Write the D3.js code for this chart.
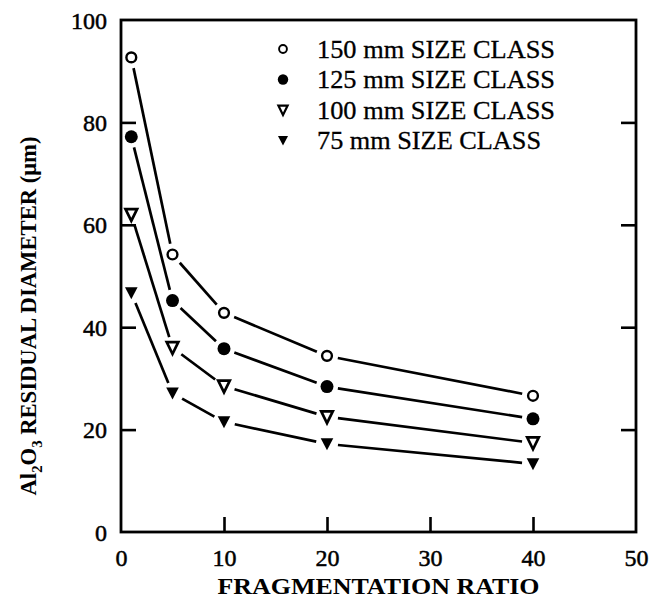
<!DOCTYPE html>
<html>
<head>
<meta charset="utf-8">
<script src="https://cdn.jsdelivr.net/npm/d3@7"></script>
<style>
  html, body { margin: 0; padding: 0; background: #fff; }
  svg { display: block; }
  text { font-family: "Liberation Serif", "Times New Roman", serif; fill: #000; }
</style>
</head>
<body>
<svg id="chart" width="665" height="610"></svg>
<script>
// Fragmentation ratios at which the residual diameter was measured
const ratios = [1, 5, 10, 20, 40];

// Al2O3 residual diameter (µm) per size class
const size150 = [92.7, 54.2, 42.8, 34.4, 26.6];
const size125 = [77.2, 45.2, 35.8, 28.4, 22.1];
const size100 = [62.0, 36.0, 28.5, 22.5, 17.4];
const size75  = [46.7, 27.1, 21.5, 17.2, 13.3];

const seriesNames = ["150 mm SIZE CLASS", "125 mm SIZE CLASS", "100 mm SIZE CLASS", "75 mm SIZE CLASS"];
const seriesMarkers = ["openCircle", "filledCircle", "openTriangle", "filledTriangle"];

const xTicks = [0, 10, 20, 30, 40, 50];
const yTicks = [0, 20, 40, 60, 80, 100];

const svg = d3.select("#chart");
const plotLeft = 121, plotRight = 636, plotTop = 20, plotBottom = 532;

const x = d3.scaleLinear().domain([0, 50]).range([plotLeft, plotRight]);
const y = d3.scaleLinear().domain([0, 100]).range([plotBottom, plotTop]);

const series = [size150, size125, size100, size75].map((vals, i) => ({
  name: seriesNames[i],
  marker: seriesMarkers[i],
  points: vals.map((v, j) => ({ r: ratios[j], v }))
}));

// Axes with inward ticks
const tickLen = 15;
const gx = svg.append("g").attr("transform", `translate(0,${plotBottom})`)
  .call(d3.axisBottom(x).tickValues(xTicks).tickSizeInner(-tickLen).tickSizeOuter(0).tickPadding(17)
    .tickFormat(d3.format("d")));
const gy = svg.append("g").attr("transform", `translate(${plotLeft},0)`)
  .call(d3.axisLeft(y).tickValues(yTicks).tickSizeInner(-tickLen).tickSizeOuter(0).tickPadding(14)
    .tickFormat(d3.format("d")));
const gr = svg.append("g").attr("transform", `translate(${plotRight},0)`)
  .call(d3.axisRight(y).tickValues([20, 40, 60, 80]).tickSizeInner(-tickLen).tickSizeOuter(0).tickFormat(""));

[gx, gy, gr].forEach(g => {
  g.select(".domain").remove();
  g.selectAll(".tick line").attr("stroke", "#000").attr("stroke-width", 2.6);
  g.selectAll(".tick text").style("font-size", "24px").attr("fill", "#000")
    .attr("stroke", "#000").attr("stroke-width", 0.5);
});
// Ticks that sit on the frame are hidden
gx.selectAll(".tick").filter(d => d === 0 || d === 50).select("line").remove();
gy.selectAll(".tick").filter(d => d === 0 || d === 100).select("line").remove();
gy.selectAll(".tick text").attr("dy", "0.34em");

// Frame
svg.append("rect")
  .attr("x", plotLeft).attr("y", plotTop)
  .attr("width", plotRight - plotLeft).attr("height", plotBottom - plotTop)
  .attr("fill", "none").attr("stroke", "#000").attr("stroke-width", 2.8);

// Line segments between markers, with a gap at each marker
const gap = 11;
const lineG = svg.append("g");
series.forEach(s => {
  for (let j = 0; j < s.points.length - 1; j++) {
    const a = s.points[j], b = s.points[j + 1];
    const x1 = x(a.r), y1 = y(a.v), x2 = x(b.r), y2 = y(b.v);
    const len = Math.hypot(x2 - x1, y2 - y1);
    const ux = (x2 - x1) / len, uy = (y2 - y1) / len;
    lineG.append("line")
      .attr("x1", x1 + ux * gap).attr("y1", y1 + uy * gap)
      .attr("x2", x2 - ux * gap).attr("y2", y2 - uy * gap)
      .attr("stroke", "#000").attr("stroke-width", 2.7).attr("stroke-linecap", "butt");
  }
});

// Marker drawing
function drawMarker(g, type, cx, cy, scale) {
  if (type === "openCircle") {
    g.append("circle").attr("cx", cx).attr("cy", cy).attr("r", 4.9 * scale)
      .attr("fill", "#fff").attr("stroke", "#000").attr("stroke-width", 2.4 * scale);
  } else if (type === "filledCircle") {
    g.append("circle").attr("cx", cx).attr("cy", cy).attr("r", 6.5 * scale).attr("fill", "#000");
  } else if (type === "openTriangle") {
    const w = 5.8 * scale, h = 5.5 * scale;
    g.append("path")
      .attr("d", `M${cx - w},${cy - h}L${cx + w},${cy - h}L${cx},${cy + h * 1.15}Z`)
      .attr("fill", "#fff").attr("stroke", "#000").attr("stroke-width", 2.7 * scale)
      .attr("stroke-linejoin", "miter");
  } else {
    const w = 6.3 * scale, h = 5.7 * scale;
    g.append("path")
      .attr("d", `M${cx - w},${cy - h}L${cx + w},${cy - h}L${cx},${cy + h * 1.1}Z`)
      .attr("fill", "#000");
  }
}

const markG = svg.append("g");
series.forEach(s => {
  s.points.forEach(p => drawMarker(markG, s.marker, x(p.r), y(p.v), 1));
});

// Legend
const legendG = svg.append("g");
const legendY0 = 49, legendStep = 30.5;
series.forEach((s, i) => {
  const cy = legendY0 + i * legendStep;
  drawMarker(legendG, s.marker, 283, cy, 0.8);
  legendG.append("text")
    .attr("x", 317).attr("y", cy).attr("dy", "0.35em")
    .style("font-size", "25px")
    .attr("stroke", "#000").attr("stroke-width", 0.3)
    .attr("textLength", s.name.length * 14).attr("lengthAdjust", "spacingAndGlyphs")
    .text(s.name);
});

// Axis titles
svg.append("text")
  .attr("x", (plotLeft + plotRight) / 2).attr("y", 594)
  .attr("text-anchor", "middle")
  .style("font-size", "23px").style("font-weight", "bold")
  .attr("textLength", 322).attr("lengthAdjust", "spacingAndGlyphs")
  .text("FRAGMENTATION RATIO");

const yt = svg.append("text")
  .attr("transform", "translate(36,316) rotate(-90)")
  .attr("text-anchor", "middle")
  .style("font-size", "23px").style("font-weight", "bold")
  .attr("textLength", 359).attr("lengthAdjust", "spacingAndGlyphs");
yt.append("tspan").text("Al");
yt.append("tspan").attr("dy", 6).style("font-size", "15px").text("2");
yt.append("tspan").attr("dy", -6).text("O");
yt.append("tspan").attr("dy", 6).style("font-size", "15px").text("3");
yt.append("tspan").attr("dy", -6).text(" RESIDUAL DIAMETER (\u03bcm)");
</script>
</body>
</html>
